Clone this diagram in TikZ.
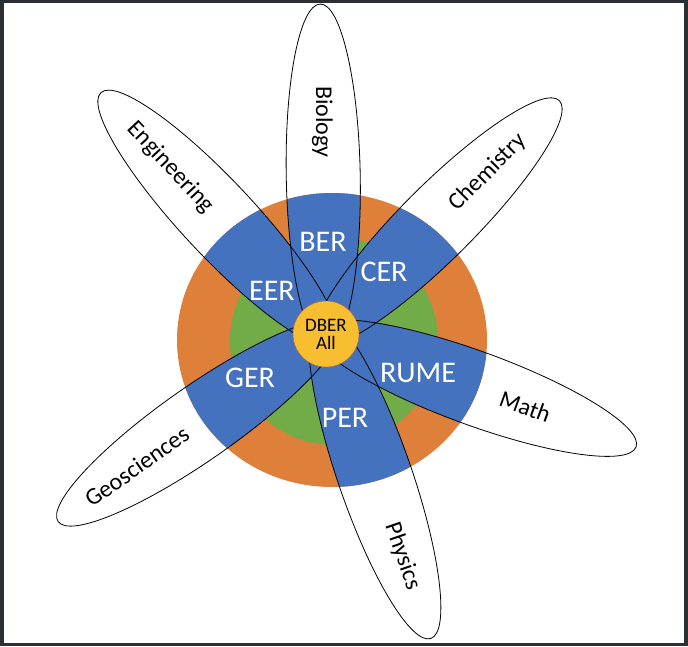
\documentclass[tikz,border=0pt]{standalone}
\usepackage{fontspec}
\setmainfont{Carlito}
\usetikzlibrary{positioning, calc}
\usetikzlibrary{shapes}
\begin{document}
\begin{tikzpicture}
    [x=1pt, y=1pt,
    field/.style={font=\fontsize{24}{24}\selectfont, text=black},
    group/.style={font=\fontsize{30}{30}\selectfont, text=white}]
    \definecolor{frame}{RGB}{43,47,51}
    \definecolor{ringorange}{RGB}{222,127,58}
    \definecolor{ringgreen}{RGB}{114,172,72}
    \definecolor{secblue}{RGB}{68,114,190}
    \definecolor{hubyellow}{RGB}{248,190,50}
    \useasboundingbox (0,0) rectangle (688,646);
    \fill[frame] (0,0) rectangle (688,646);
    \fill[white] (4,3) rectangle (684,643);
    \coordinate (hub) at (326,312);
    \foreach \name/\ang/\dist in {bio/91/158, chem/45/158, math/-20/158, phys/-71/150, geo/-145/155, eng/133/158}
        \coordinate (\name) at ([shift={(\ang:\dist)}]hub);
    % rings
    \fill[ringorange] (332,306) ellipse [x radius=155, y radius=147];
    \fill[ringgreen] (334,305) circle [radius=104];
    \begin{scope}
        \clip (332,306) ellipse [x radius=155, y radius=147];
        \foreach \name/\ang in {bio/91, chem/45, math/-20, phys/-71, geo/-145, eng/133}
            \fill [secblue] (\name) ellipse [x radius=172, y radius=37, rotate=\ang];
    \end{scope}
    \foreach \name/\ang in {bio/91, chem/45, math/-20, phys/-71, geo/-145, eng/133}
        \draw [thick] (\name) ellipse [x radius=172, y radius=37, rotate=\ang];
    % hub
    \node [circle, fill=hubyellow, draw=ringorange!80!black, minimum size=66pt, inner sep=0pt,
        font=\fontsize{19}{20}\selectfont, align=center] (DBER) at (hub) {DBER\\[-2pt]All};
    % fields
    \node [field, rotate=-90] (Biology) at ([shift={(91:212)}]hub) {Biology};
    \node [field, rotate=45] (Chemistry) at ([shift={(45:229)}]hub) {Chemistry};
    \node [field, rotate=-20] (Math) at ([shift={(-20:212)}]hub) {Math};
    \node [field, rotate=-71] (Physics) at ([shift={(-71:235)}]hub) {Physics};
    \node [field, rotate=35] (Geosciences) at ([shift={(-145:231)}]hub) {Geosciences};
    \node [field, rotate=-47] (Engineering) at ([shift={(133:228)}]hub) {Engineering};
    % groups
    \node [group] (BER) at (323,404) {BER};
    \node [group] (CER) at (384,374) {CER};
    \node [group] (EER) at (272,355) {EER};
    \node [group] (GER) at (250,268) {GER};
    \node [group] (PER) at (345,228) {PER};
    \node [group] (RUME) at (418,273) {RUME};
\end{tikzpicture}
\end{document}
